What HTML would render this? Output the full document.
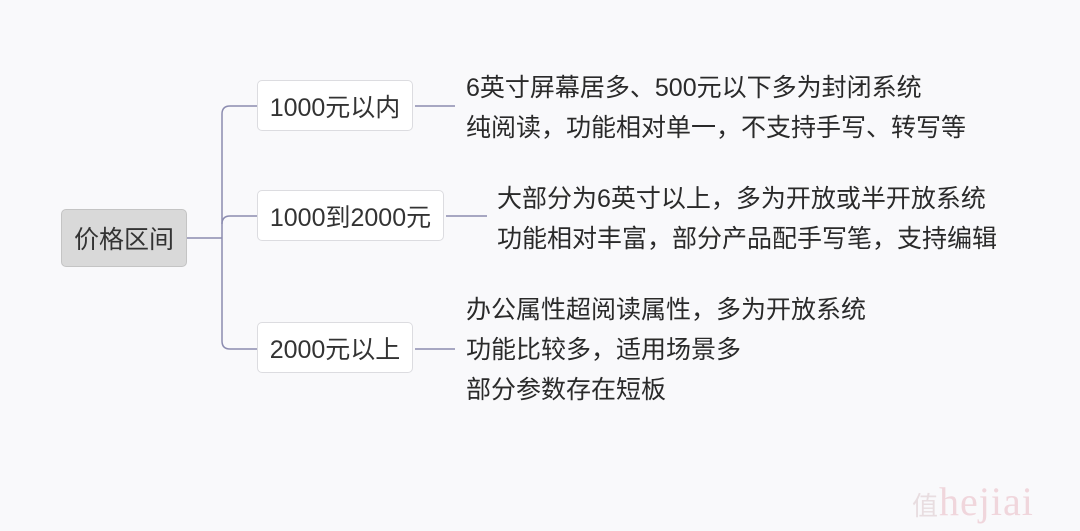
<!DOCTYPE html>
<html><head><meta charset="utf-8"><style>
body{margin:0;width:1080px;height:531px;background:#f9f9fb;position:relative;overflow:hidden;font-family:"Liberation Sans","Noto Sans CJK SC",sans-serif;color:#333}
.b{position:absolute;box-sizing:border-box;border:1px solid #dcdce0;border-radius:5px;background:#fff;font-size:25px;display:flex;align-items:center;justify-content:center;color:#333;white-space:nowrap}
.t{position:absolute;font-size:25px;line-height:40px;white-space:nowrap;color:#2a2a2a}
</style></head><body>
<svg width="1080" height="531" style="position:absolute;left:0;top:0">
<g stroke="#8c8cb0" stroke-width="1.5" fill="none">
<path d="M186 238 H222"/>
<path d="M257 106 H230 Q222 106 222 114 V341 Q222 349 230 349 H257"/>
<path d="M222 224 Q222 216 230 216 H257"/>
<path d="M415 106 H455"/><path d="M446 216 H487"/><path d="M415 349 H455"/>
</g></svg>
<div class="b" style="left:61px;top:209px;width:126px;height:58px;background:#d9d9d9;border-color:#c4c4c4">价格区间</div>
<div class="b" style="left:257px;top:80px;width:156px;height:51px">1000元以内</div>
<div class="b" style="left:257px;top:190px;width:187px;height:51px">1000到2000元</div>
<div class="b" style="left:257px;top:322px;width:156px;height:51px">2000元以上</div>
<div class="t" style="left:466px;top:68px">6英寸屏幕居多、500元以下多为封闭系统<br>纯阅读，功能相对单一，不支持手写、转写等</div>
<div class="t" style="left:497px;top:179px">大部分为6英寸以上，多为开放或半开放系统<br>功能相对丰富，部分产品配手写笔，支持编辑</div>
<div class="t" style="left:466px;top:290px">办公属性超阅读属性，多为开放系统<br>功能比较多，适用场景多<br>部分参数存在短板</div>
<div style="position:absolute;left:912px;top:478px;font-size:26px;color:#e8dde0;letter-spacing:1px">值<span style="font-size:40px;color:#f0d6dc;font-family:'Liberation Serif',serif">hejiai</span></div>
</body></html>
